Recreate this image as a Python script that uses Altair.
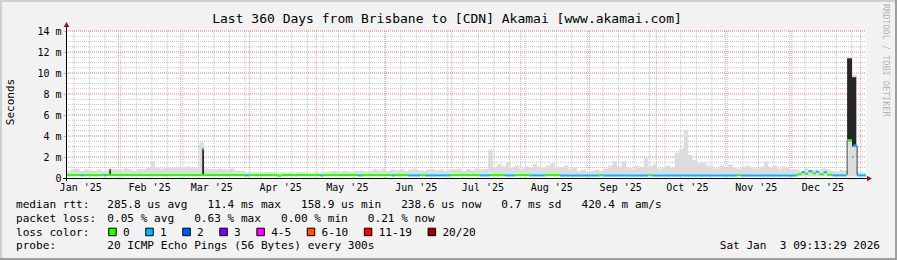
import altair as alt
import pandas as pd
from datetime import datetime

FONT = "DejaVu Sans Mono"
START = datetime(2025, 1, 8, 9, 13, 29)
SPAN = 360.0
BIN = 2.0
PL, PT = 66, 31          # plot origin in page pixels
W, H = 800, 147

def day(dt):
    return (dt - START).total_seconds() / 86400.0

# ---------------- data (ms) ----------------
smoke_hi = [
    0.7, 0.8, 0.9, 0.7, 0.8, 0.75,
    0.7, 0.8, 0.65, 0.75,
    0.85,
    0.8, 0.75, 0.9, 0.8, 0.7, 0.85, 0.8, 1.0,
    1.6,
    1.0, 0.9, 1.1, 0.95, 1.0, 1.1, 1.05,
    1.1, 1.0, 0.9, 3.4,
    0.9, 0.85, 0.8, 0.9, 0.85, 0.8, 0.9, 0.75, 0.7,
    0.5, 0.55, 0.5, 0.45, 0.5, 0.55, 0.5, 0.45, 0.5,
    0.45, 0.5, 0.4, 0.45, 0.5, 0.45, 0.4, 0.5, 0.45,
    0.6, 0.65, 0.7, 0.6, 0.7, 0.65, 0.6, 0.7, 0.75, 0.65,
    0.7, 0.8, 0.75, 0.9, 0.7, 0.8, 0.75, 0.85, 0.7, 0.8, 0.9, 0.75, 0.7, 0.8, 0.85, 0.75, 0.8, 0.7, 0.8,
    0.8, 0.9, 0.7, 0.85, 0.75, 0.9, 0.8, 0.85, 2.7,
    1.0, 1.3, 1.1, 1.5, 1.0, 1.2, 0.9, 1.1, 1.0, 1.3, 1.1, 1.0, 1.2, 1.4, 1.1, 1.0, 1.2, 0.9, 1.0,
    0.7, 0.8, 0.6, 0.7, 0.8, 0.7, 0.9,
    1.2, 1.6, 1.1, 1.6, 1.0,
    0.9, 1.2, 1.0, 1.9, 1.1, 1.3, 0.9, 1.0, 1.2, 1.0,
    2.4, 2.8, 4.6, 2.2,
    1.7, 1.4, 1.5, 1.2,
    1.1, 0.9, 1.2, 1.0, 1.3, 1.0, 0.9, 1.1, 1.2, 1.0, 0.9, 1.1,
    1.6, 1.0, 1.2, 0.9, 1.1, 1.0, 0.8,
    0.8, 0.7, 0.9, 0.6, 0.8, 0.7, 0.9, 0.8, 0.7, 0.6, 0.8, 0.7,
    11.4, 9.8,
    0.5, 0.5,
]
SMOKE_LO = 0.15

spike_start = [19.5, 61.3, 351.5, 353.7, 351.3, 355.8]
spike_end   = [20.2, 62.1, 353.7, 355.6, 351.7, 356.2]
spike_lo    = [0.3, 0.3, 3.5, 3.0, 0.3, 0.3]
spike_hi    = [0.85, 2.8, 11.4, 9.6, 3.6, 3.1]

med_start = [0, 6.8, 7.7, 17.1, 18.0, 80.5, 82.4, 95.0, 97.0, 114.3, 115.7, 131.4, 133.2, 146.7,
             148.0, 153.9, 159.3, 161.6, 172.8, 186.3, 190.8, 197.6, 202.0, 208.8, 215.6, 222.3,
             240.0, 241.5, 262.0, 263.5, 302.0, 303.5, 329.0, 331.0, 332.5, 334.0, 336.0, 337.5,
             339.0, 341.0, 342.5, 345.0, 351.3, 353.7, 354.3, 355.9, 19.6, 61.4]
med_end   = [6.8, 7.7, 17.1, 18.0, 80.5, 82.4, 95.0, 97.0, 114.3, 115.7, 131.4, 133.2, 146.7, 148.0,
             153.9, 159.3, 161.6, 172.8, 186.3, 190.8, 197.6, 202.0, 208.8, 215.6, 222.3, 240.0,
             241.5, 262.0, 263.5, 302.0, 303.5, 329.0, 331.0, 332.5, 334.0, 336.0, 337.5, 339.0,
             341.0, 342.5, 345.0, 351.3, 353.7, 354.3, 355.9, 360.0, 20.1, 62.0]
med_val   = [0.28, 0.26, 0.28, 0.26, 0.28, 0.25, 0.28, 0.22, 0.28, 0.25, 0.28, 0.25, 0.28, 0.25,
             0.28, 0.25, 0.28, 0.25, 0.28, 0.25, 0.28, 0.25, 0.28, 0.25, 0.28, 0.25,
             0.28, 0.25, 0.28, 0.25, 0.28, 0.25, 0.35, 0.55, 0.40, 0.65, 0.45, 0.60,
             0.35, 0.55, 0.30, 0.25, 3.6, 2.0, 3.1, 0.25, 0.83, 2.75]
med_loss  = [0, 1, 0, 1, 0, 1, 0, 0, 0, 1, 0, 1, 0, 1, 0, 1, 0, 1, 0, 1, 0, 1, 0, 1, 0, 1,
             0, 1, 0, 1, 0, 1, 0, 1, 0, 1, 0, 1, 0, 1, 0, 1, 0, 1, 1, 1, 0, 0]

loss_labels = ["0", "1", "2", "3", "4-5", "6-10", "11-19", "20/20"]
loss_colors = ["#26ff00", "#00b8ff", "#0059ff", "#7e00ff", "#ff00ff", "#ff5500", "#ff0000", "#a10000"]

month_names = ["Jan '25", "Feb '25", "Mar '25", "Apr '25", "May '25", "Jun '25",
               "Jul '25", "Aug '25", "Sep '25", "Oct '25", "Nov '25", "Dec '25"]
y_ticks = [0, 2, 4, 6, 8, 10, 12, 14]

title_text = "Last 360 Days from Brisbane to [CDN] Akamai [www.akamai.com]"
legend_rows = [
    ("median rtt:", "285.8 us avg   11.4 ms max   158.9 us min   238.6 us now   0.7 ms sd   420.4 m am/s"),
    ("packet loss:", "0.05 % avg   0.63 % max   0.00 % min   0.21 % now"),
    ("loss color:", ""),
    ("probe:", "20 ICMP Echo Pings (56 Bytes) every 300s"),
]
date_text = "Sat Jan  3 09:13:29 2026"

# ---------------- frames ----------------
XS = alt.Scale(domain=[0, SPAN], nice=False, zero=False)
YS = alt.Scale(domain=[0, 14], nice=False, zero=True)
Y_AXIS = alt.Axis(values=y_ticks, labelExpr="datum.value == 0 ? '0\u00a0\u00a0' : datum.value + '\u00a0m'",
                  labelFont=FONT, labelFontSize=10, labelColor="#000000", domain=False, ticks=True,
                  tickSize=3, tickColor="#f0a0a0", grid=False, title=None, labelPadding=2,
                  labelOverlap=False)

smoke_df = pd.DataFrame({
    "day": [i * BIN for i in range(len(smoke_hi))] + [SPAN],
    "hi": smoke_hi + [smoke_hi[-1]],
})
smoke_df["lo"] = SMOKE_LO

spike_df = pd.DataFrame({"s": spike_start, "e": spike_end, "lo": spike_lo, "hi": spike_hi})
med_df = pd.DataFrame({"s": med_start, "e": med_end, "v": med_val,
                       "col": [loss_colors[c] for c in med_loss]})

# grid positions
month_starts = [day(datetime(2025, m, 1)) for m in range(2, 13)] + [day(datetime(2026, 1, 1))]
mid_months = [day(datetime(2025, m, 15)) for m in range(1, 13)]
weeks = []
t = datetime(2025, 1, 12)
while day(t) < SPAN:
    weeks.append(day(t))
    t = datetime.fromordinal(t.toordinal() + 7)
h_minor = [k * 0.5 for k in range(1, 29)]
h_major = y_ticks[1:]

ONE = alt.Data(values=[{"k": 0}])

def vx(x):
    return alt.value(x - PL)

def vy(y):
    return alt.value(y - PT)

def txt(s, x, y, size=11.1, align="left", angle=0, color="#000000", baseline="alphabetic"):
    return alt.Chart(ONE).mark_text(text=s.replace(" ", "\u00a0"), align=align, baseline=baseline,
                                    font=FONT, fontSize=size, color=color, angle=angle).encode(
        x=vx(x), y=vy(y))

def hline(x1, x2, y, color, width=1):
    return alt.Chart(ONE).mark_rule(color=color, strokeWidth=width).encode(
        x=vx(x1), x2=vx(x2), y=vy(y))

def vline(x, y1, y2, color, width=1):
    return alt.Chart(ONE).mark_rule(color=color, strokeWidth=width).encode(
        x=vx(x), y=vy(y1), y2=vy(y2))

layers = []

# grid
layers.append(alt.Chart(pd.DataFrame({"d": weeks})).mark_rule(color="#c4c4c4", strokeDash=[1, 1]).encode(
    x=alt.X("d:Q", scale=XS, axis=None), y=alt.value(0), y2=alt.value(H)))
layers.append(alt.Chart(pd.DataFrame({"v": h_minor})).mark_rule(color="#c4c4c4", strokeDash=[1, 1]).encode(
    y=alt.Y("v:Q", scale=YS, axis=Y_AXIS), x=alt.value(0), x2=alt.value(W)))
layers.append(alt.Chart(pd.DataFrame({"d": month_starts})).mark_rule(color="#f29a9a", strokeDash=[1, 1]).encode(
    x=alt.X("d:Q", scale=XS, axis=None), y=alt.value(0), y2=alt.value(H)))
layers.append(alt.Chart(pd.DataFrame({"v": h_major})).mark_rule(color="#f29a9a", strokeDash=[1, 1]).encode(
    y=alt.Y("v:Q", scale=YS, axis=Y_AXIS), x=alt.value(0), x2=alt.value(W)))

# smoke
layers.append(alt.Chart(smoke_df).mark_area(interpolate="step-after", color="#dcdcdc").encode(
    x=alt.X("day:Q", scale=XS, axis=None), y=alt.Y("hi:Q", scale=YS, axis=Y_AXIS), y2="lo:Q"))
# dense dark smoke spikes
layers.append(alt.Chart(spike_df).mark_rect(color="#262626").encode(
    x=alt.X("s:Q", scale=XS, axis=None), x2="e:Q", y=alt.Y("lo:Q", scale=YS, axis=Y_AXIS), y2="hi:Q"))
# median, coloured by loss
layers.append(alt.Chart(med_df).mark_rule(strokeWidth=2).encode(
    x=alt.X("s:Q", scale=XS, axis=None), x2="e:Q", y=alt.Y("v:Q", scale=YS, axis=Y_AXIS),
    color=alt.Color("col:N", scale=None)))

# axes
layers.append(hline(63, 867, 178.5, "#000000"))
layers.append(vline(66.5, 181, 26, "#000000"))
layers.append(alt.Chart(ONE).mark_point(shape="triangle-up", filled=True, size=32, color="#9a1010", opacity=1).encode(
    x=vx(66.5), y=vy(24.5)))
layers.append(alt.Chart(ONE).mark_point(shape="triangle-right", filled=True, size=32, color="#9a1010", opacity=1).encode(
    x=vx(869.5), y=vy(178.5)))

# x labels
layers.append(alt.Chart(pd.DataFrame({"d": mid_months, "lab": month_names})).mark_text(
    font=FONT, fontSize=10, baseline="alphabetic", align="center", color="#000000").encode(
    x=alt.X("d:Q", scale=XS, axis=None), y=vy(190.5), text="lab:N"))

# titles
layers.append(txt(title_text, 447, 22.7, size=13, align="center"))
layers.append(txt("Seconds", 11, 102, size=11, align="center", angle=270, baseline="middle"))
layers.append(txt("RRDTOOL / TOBI OETIKER", 886, 4, size=8.5, angle=90, color="#b4b4b4", baseline="middle"))

# legend
row_y = [208.3, 222.0, 235.7, 249.4]
for (lab, val), yy in zip(legend_rows, row_y):
    layers.append(txt(lab, 16, yy))
    if val:
        layers.append(txt(val, 107.3, yy))
layers.append(txt(date_text, 880, row_y[3], align="right"))

CW = 6.68
bx = 108.7
for lab, col in zip(loss_labels, loss_colors):
    layers.append(alt.Chart(ONE).mark_rect(fill=col, stroke="#000000", strokeWidth=1).encode(
        x=vx(bx), x2=vx(bx + 7.5), y=vy(row_y[2] - 7.5), y2=vy(row_y[2])))
    layers.append(txt(lab, bx + 14.3, row_y[2]))
    bx = bx + 17 + (len(lab) + 2) * CW

# border
layers.append(hline(0, 897, 1, "#cfcfcf", 2))
layers.append(vline(1, 0, 260, "#cfcfcf", 2))
layers.append(hline(0, 897, 259, "#9e9e9e", 2))
layers.append(vline(896, 0, 260, "#9e9e9e", 2))

chart = alt.layer(*layers).properties(
    width=W, height=H,
    padding={"left": PL, "top": PT, "right": 897 - PL - W, "bottom": 260 - PT - H},
    autosize=alt.AutoSizeParams(type="none"),
    background="#f2f2f2",
).configure_view(fill="white", stroke=None)

chart.save("out.html", embed_options={"renderer": "svg", "actions": False})
